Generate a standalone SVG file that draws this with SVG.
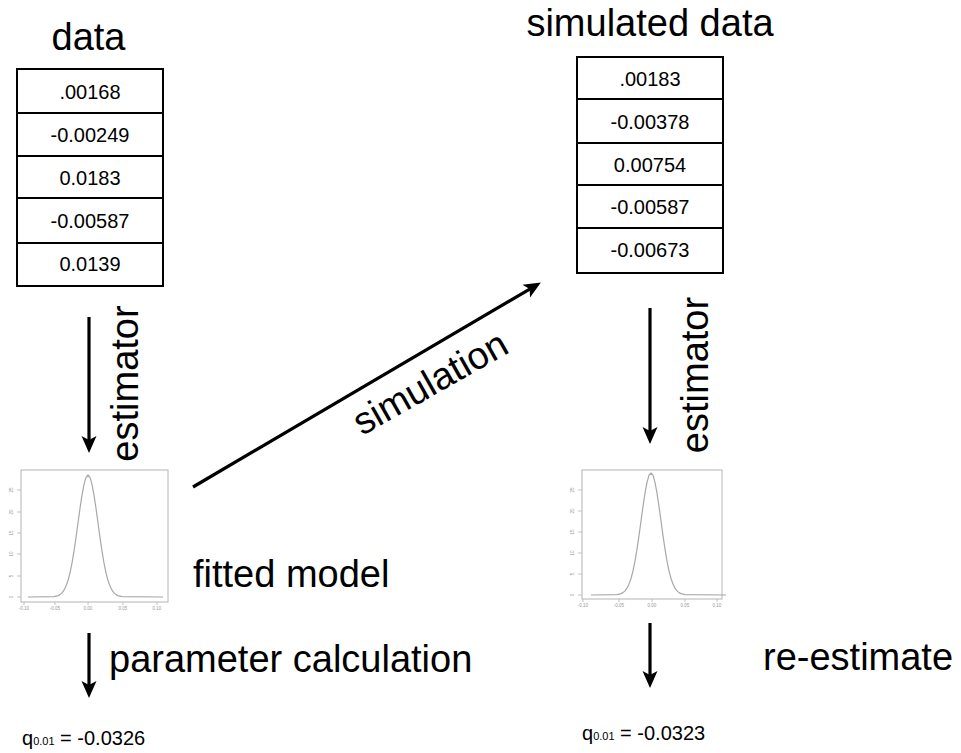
<svg xmlns="http://www.w3.org/2000/svg" xmlns:xlink="http://www.w3.org/1999/xlink" width="961" height="753" viewBox="0 0 961 753">
<style>
  text { font-family: "Liberation Sans", Arial, sans-serif; fill: #000; }
  .big { font-size: 38px; }
  .cell { font-size: 20px; text-anchor: middle; }
  .q { font-size: 20px; }
  .sub { font-size: 11px; }
  .box { fill: #fff; stroke: #000; stroke-width: 2; }
  .arrow { stroke: #000; stroke-width: 3.2; fill: none; marker-end: url(#head); }
  .frame { fill: #fff; stroke: #b4b4b4; stroke-width: 1; }
  .curve { fill: none; stroke: #a8a8a8; stroke-width: 1.2; stroke-linejoin: round; }
  .tick { stroke: #b4b4b4; stroke-width: 0.8; }
  .tl { font-size: 4.5px; fill: #999; text-anchor: middle; }
</style>
<defs>
  <marker id="head" markerUnits="userSpaceOnUse" viewBox="0 -8 17 16" refX="6" refY="0" markerWidth="17" markerHeight="16" orient="auto">
    <path d="M0,-7.5 L17,0 L0,7.5 L4,0 Z" fill="#000"/>
  </marker>
  <path id="gauss" d="M-60,0 L-34,-0.4 L-30,-1.4 L-28,-2.4 L-26,-4.1 L-24,-6.8 L-22,-10.9 L-20,-16.5 L-18,-24.2 L-16,-33.9 L-14,-45.8 L-12,-59.4 L-10,-74 L-8,-88.6 L-6,-101.9 L-4,-112.6 L-2,-119.6 L0,-122 L2,-119.6 L4,-112.6 L6,-101.9 L8,-88.6 L10,-74 L12,-59.4 L14,-45.8 L16,-33.9 L18,-24.2 L20,-16.5 L22,-10.9 L24,-6.8 L26,-4.1 L28,-2.4 L30,-1.4 L34,-0.4 L75,0"/>
</defs>
<rect width="961" height="753" fill="#fff"/>

<g id="data">
  <text class="big" x="88.5" y="50" text-anchor="middle">data</text>
  <rect class="box" x="17" y="69" width="146" height="44"/>
  <rect class="box" x="17" y="113" width="146" height="43"/>
  <rect class="box" x="17" y="156" width="146" height="42"/>
  <rect class="box" x="17" y="198" width="146" height="45"/>
  <rect class="box" x="17" y="243" width="146" height="43"/>
  <text class="cell" x="90" y="99">.00168</text>
  <text class="cell" x="90" y="142">-0.00249</text>
  <text class="cell" x="90" y="185">0.0183</text>
  <text class="cell" x="90" y="228">-0.00587</text>
  <text class="cell" x="90" y="271">0.0139</text>
</g>

<g id="simulated-data">
  <text class="big" x="650" y="36" text-anchor="middle">simulated data</text>
  <rect class="box" x="577" y="57" width="146" height="42"/>
  <rect class="box" x="577" y="99" width="146" height="44"/>
  <rect class="box" x="577" y="143" width="146" height="42"/>
  <rect class="box" x="577" y="185" width="146" height="43"/>
  <rect class="box" x="577" y="228" width="146" height="45"/>
  <text class="cell" x="650" y="86">.00183</text>
  <text class="cell" x="650" y="129">-0.00378</text>
  <text class="cell" x="650" y="172">0.00754</text>
  <text class="cell" x="650" y="214">-0.00587</text>
  <text class="cell" x="650" y="257">-0.00673</text>
</g>

<g id="fitted-model">
  <rect class="frame" x="21" y="470" width="147" height="132"/>
  <use xlink:href="#gauss" class="curve" transform="translate(88,597)"/>
  <g class="tick">
    <line x1="17" y1="490" x2="21" y2="490"/><line x1="17" y1="512" x2="21" y2="512"/>
    <line x1="17" y1="533" x2="21" y2="533"/><line x1="17" y1="554" x2="21" y2="554"/>
    <line x1="17" y1="576" x2="21" y2="576"/><line x1="17" y1="597" x2="21" y2="597"/>
    <line x1="24" y1="602" x2="24" y2="605"/><line x1="55" y1="602" x2="55" y2="605"/>
    <line x1="88" y1="602" x2="88" y2="605"/><line x1="123" y1="602" x2="123" y2="605"/>
    <line x1="157" y1="602" x2="157" y2="605"/>
  </g>
  <text class="tl" transform="translate(13,490) rotate(-90)">25</text>
  <text class="tl" transform="translate(13,512) rotate(-90)">20</text>
  <text class="tl" transform="translate(13,533) rotate(-90)">15</text>
  <text class="tl" transform="translate(13,554) rotate(-90)">10</text>
  <text class="tl" transform="translate(13,576) rotate(-90)">5</text>
  <text class="tl" transform="translate(13,597) rotate(-90)">0</text>
  <text class="tl" x="24" y="610">-0.10</text>
  <text class="tl" x="55" y="610">-0.05</text>
  <text class="tl" x="88" y="610">0.00</text>
  <text class="tl" x="123" y="610">0.05</text>
  <text class="tl" x="157" y="610">0.10</text>
  <text class="big" x="193" y="587">fitted model</text>
</g>

<g id="re-estimated-model">
  <rect class="frame" x="582" y="470" width="140" height="129"/>
  <use xlink:href="#gauss" class="curve" transform="translate(651,595)"/>
  <g class="tick">
    <line x1="578" y1="490" x2="582" y2="490"/><line x1="578" y1="511" x2="582" y2="511"/>
    <line x1="578" y1="532" x2="582" y2="532"/><line x1="578" y1="553" x2="582" y2="553"/>
    <line x1="578" y1="574" x2="582" y2="574"/><line x1="578" y1="595" x2="582" y2="595"/>
    <line x1="583" y1="599" x2="583" y2="602"/><line x1="619" y1="599" x2="619" y2="602"/>
    <line x1="652" y1="599" x2="652" y2="602"/><line x1="685" y1="599" x2="685" y2="602"/>
    <line x1="717" y1="599" x2="717" y2="602"/>
  </g>
  <text class="tl" transform="translate(574,490) rotate(-90)">25</text>
  <text class="tl" transform="translate(574,511) rotate(-90)">20</text>
  <text class="tl" transform="translate(574,532) rotate(-90)">15</text>
  <text class="tl" transform="translate(574,553) rotate(-90)">10</text>
  <text class="tl" transform="translate(574,574) rotate(-90)">5</text>
  <text class="tl" transform="translate(574,595) rotate(-90)">0</text>
  <text class="tl" x="583" y="607">-0.10</text>
  <text class="tl" x="619" y="607">-0.05</text>
  <text class="tl" x="652" y="607">0.00</text>
  <text class="tl" x="685" y="607">0.05</text>
  <text class="tl" x="717" y="607">0.10</text>
</g>

<g id="result-left">
  <text class="q" x="22" y="745">q<tspan class="sub">0.01</tspan> = -0.0326</text>
</g>
<g id="result-right">
  <text class="q" x="582" y="740">q<tspan class="sub">0.01</tspan> = -0.0323</text>
</g>

<g id="connectors">
  <line class="arrow" x1="89" y1="317" x2="89" y2="442"/>
  <line class="arrow" x1="650" y1="308" x2="650" y2="433"/>
  <line class="arrow" x1="89" y1="633" x2="89" y2="687"/>
  <line class="arrow" x1="650" y1="623" x2="650" y2="677"/>
  <line class="arrow" x1="193" y1="487" x2="531.4" y2="288.1"/>
  <text class="big" text-anchor="middle" transform="translate(138,383.5) rotate(-90)">estimator</text>
  <text class="big" text-anchor="middle" transform="translate(708,375) rotate(-90)">estimator</text>
  <text class="big" transform="translate(362,436) rotate(-29.5)">simulation</text>
  <text class="big" x="109" y="672">parameter calculation</text>
  <text class="big" x="763" y="670">re-estimate</text>
</g>
</svg>
